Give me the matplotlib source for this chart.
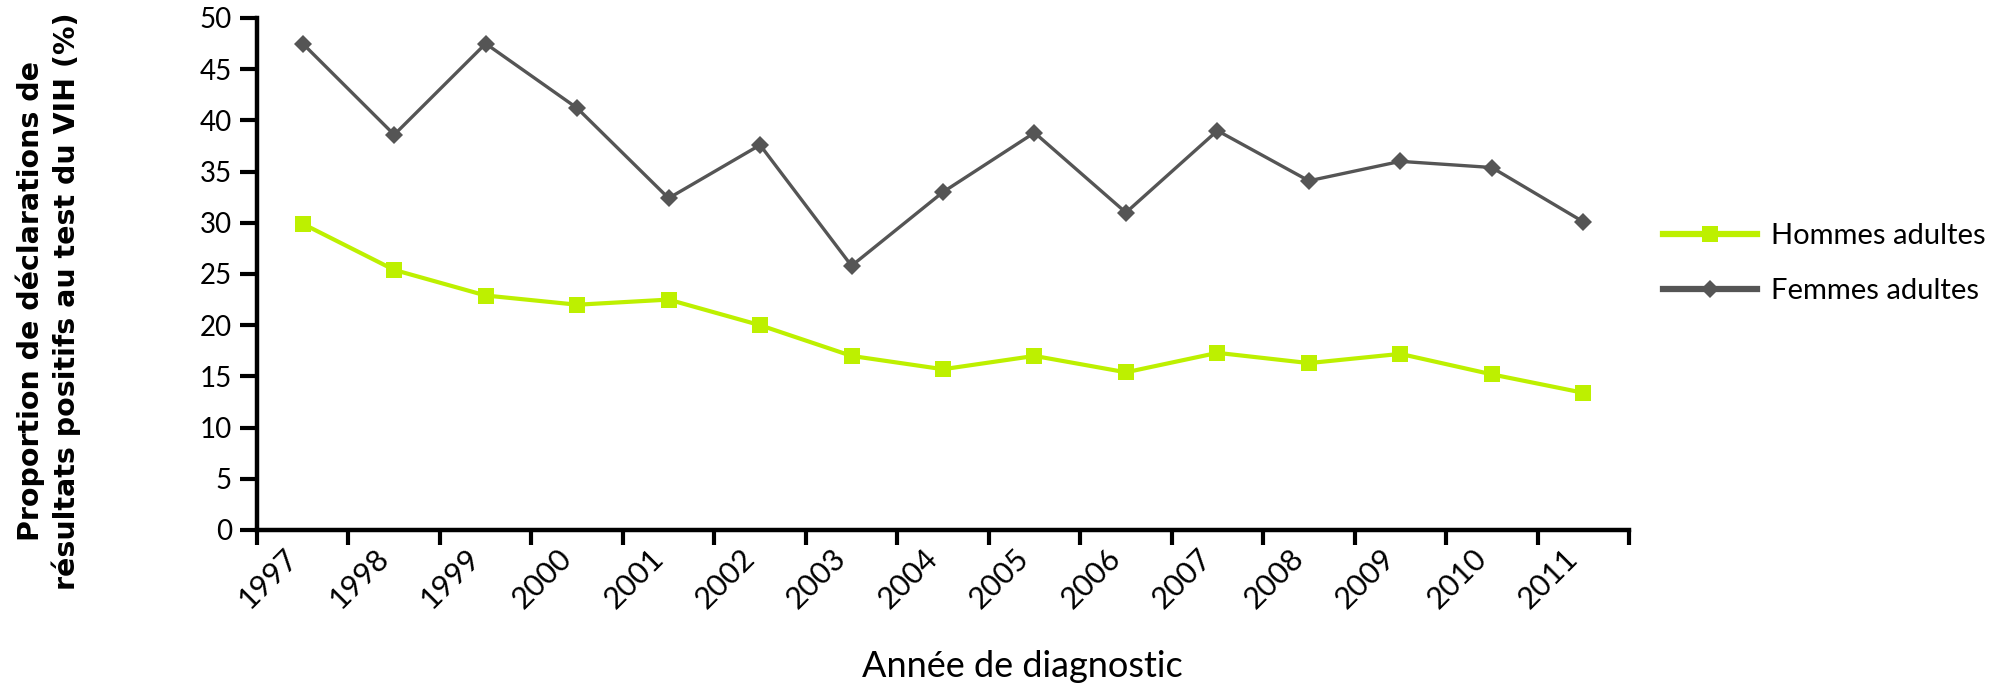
import matplotlib
matplotlib.use("Agg")
import matplotlib.pyplot as plt
from matplotlib.ticker import FixedLocator, NullFormatter

# ─── Data ─────────────────────────────────────────────────────────────────────

years = ["1997", "1998", "1999", "2000", "2001", "2002", "2003", "2004",
         "2005", "2006", "2007", "2008", "2009", "2010", "2011"]
hommes = [29.9, 25.4, 22.9, 22.0, 22.5, 20.0, 17.0, 15.7,
          17.0, 15.4, 17.3, 16.3, 17.2, 15.2, 13.4]
femmes = [47.5, 38.6, 47.5, 41.2, 32.4, 37.6, 25.8, 33.0,
          38.8, 31.0, 39.0, 34.1, 36.0, 35.4, 30.1]
y_ticks = [0, 5, 10, 15, 20, 25, 30, 35, 40, 45, 50]

GREEN = "#bdf000"
GREY = "#555555"
TICK_FONT = "Lato"

# ─── Figure ───────────────────────────────────────────────────────────────────

fig = plt.figure(figsize=(20.12, 6.87), dpi=100)
ax = fig.add_axes([257 / 2012, 1 - 530 / 687, (1629 - 257) / 2012, (530 - 18) / 687])

x = list(range(len(years)))
ax.plot(x, hommes, color=GREEN, linewidth=3, marker="s", markersize=12,
        markeredgewidth=0, label="Hommes adultes", clip_on=False)
ax.plot(x, femmes, color=GREY, linewidth=2.4, marker="D", markersize=9,
        markeredgewidth=0, label="Femmes adultes", clip_on=False)

ax.set_xlim(-0.5, len(years) - 0.5)
ax.set_ylim(0, 50)
ax.set_yticks(y_ticks)
ax.set_yticklabels([str(v) for v in y_ticks], fontsize=20, family=TICK_FONT)

# category labels in the middle, tick marks on the boundaries
ax.set_xticks(x)
ax.set_xticklabels(years, rotation=45, ha="right", fontsize=22, family=TICK_FONT)
ax.tick_params(axis="x", which="major", length=0, pad=10)
ax.xaxis.set_minor_locator(FixedLocator([i - 0.5 for i in range(len(years) + 1)]))
ax.xaxis.set_minor_formatter(NullFormatter())
ax.tick_params(axis="x", which="minor", length=11, width=3, direction="out")
ax.tick_params(axis="y", length=12, width=3, direction="out", pad=6)

for side in ["top", "right"]:
    ax.spines[side].set_visible(False)
for side in ["left", "bottom"]:
    ax.spines[side].set_linewidth(3.2)
    ax.spines[side].set_color("black")

ax.set_ylabel("Proportion de déclarations de\nrésultats positifs au test du VIH (%)",
              fontsize=20.5, fontweight="bold", family="DejaVu Sans", linespacing=1.3)
ax.yaxis.set_label_coords(-0.128, 0.447)
ax.set_xlabel("Année de diagnostic", fontsize=26, family=TICK_FONT)
ax.xaxis.set_label_coords(0.558, -0.235)

leg = ax.legend(loc="center left", bbox_to_anchor=(1.006, 0.52), frameon=False,
                prop={"family": TICK_FONT, "size": 21},
                handlelength=3.2, labelspacing=1.0, handletextpad=0.5)
for line in leg.get_lines():
    line.set_linewidth(4.5)

fig.savefig("out.png", dpi=100)
